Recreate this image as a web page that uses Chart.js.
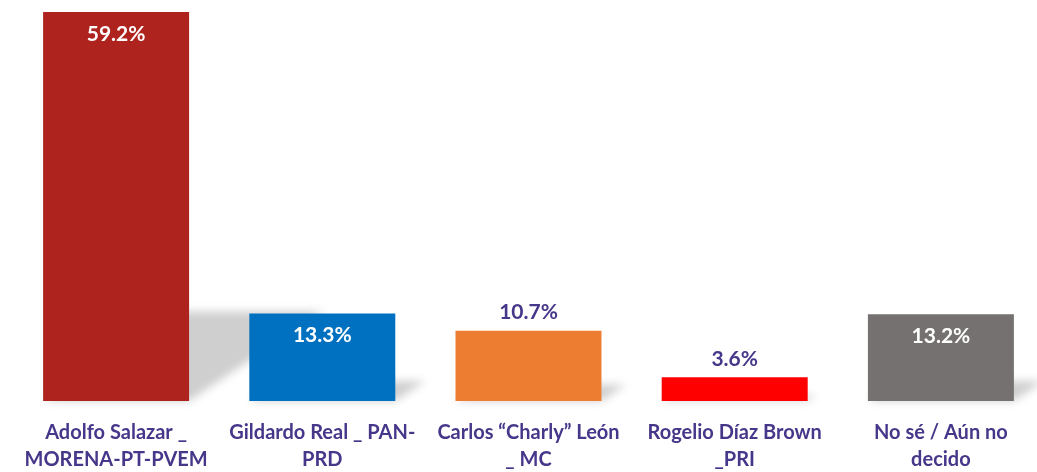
<!DOCTYPE html>
<html>
<head>
<meta charset="utf-8">
<script src="https://cdn.jsdelivr.net/npm/chart.js@4"></script>
<style>
    html, body { margin: 0; padding: 0; background: #fff; overflow: hidden; }
    #wrap { position: relative; width: 1044px; height: 472px; }
</style>
</head>
<body>
<div id="wrap"><canvas id="chart"></canvas></div>
<script>
// candidate labels (two lines each, as in the picture)
const categories = [
    ['Adolfo Salazar _', 'MORENA-PT-PVEM'],
    ['Gildardo Real _ PAN-', 'PRD'],
    ['Carlos \u201cCharly\u201d Le\u00f3n', '_ MC'],
    ['Rogelio D\u00edaz Brown', '_PRI'],
    ['No s\u00e9 / A\u00fan no', 'decido']
];
const values = [59.2, 13.3, 10.7, 3.6, 13.2];
const barColors = ['#AE231E', '#0070C0', '#ED7D31', '#FF0000', '#767171'];
const labelInside = [true, true, false, false, true];

const purple = '#47378A';

// soft slanted shadow behind every bar
const shadowPlugin = {
    id: 'barShadow',
    beforeDatasetsDraw(chart) {
        const ctx = chart.ctx;
        const meta = chart.getDatasetMeta(0);
        ctx.save();
        ctx.filter = 'blur(4px)';
        ctx.fillStyle = 'rgba(0,0,0,0.19)';
        meta.data.forEach(bar => {
            const left = bar.x - bar.width / 2;
            const right = bar.x + bar.width / 2;
            const hk = (bar.base - bar.y) * 0.23;
            const dx = hk * 1.5;
            ctx.beginPath();
            ctx.moveTo(left, bar.base);
            ctx.lineTo(right, bar.base);
            ctx.lineTo(right + dx, bar.base - hk);
            ctx.lineTo(left + dx, bar.base - hk);
            ctx.closePath();
            ctx.fill();
        });
        ctx.restore();
    }
};

// value labels: white inside tall bars, purple above short ones
const valueLabels = {
    id: 'valueLabels',
    afterDatasetsDraw(chart) {
        const ctx = chart.ctx;
        const meta = chart.getDatasetMeta(0);
        ctx.save();
        ctx.font = 'bold 21px Lato, "Open Sans", sans-serif';
        ctx.textAlign = 'center';
        ctx.textBaseline = 'middle';
        meta.data.forEach((bar, i) => {
            const txt = values[i].toFixed(1) + '%';
            if (labelInside[i]) {
                ctx.fillStyle = '#ffffff';
                ctx.fillText(txt, bar.x, bar.y + 22);
            } else {
                ctx.fillStyle = purple;
                ctx.fillText(txt, bar.x, bar.y - 18);
            }
        });
        ctx.restore();
    }
};

new Chart(document.getElementById('chart'), {
    type: 'bar',
    data: {
        labels: categories,
        datasets: [{
            data: values,
            backgroundColor: barColors,
            borderWidth: 0,
            categoryPercentage: 1,
            barPercentage: 0.708
        }]
    },
    options: {
        responsive: true,
        maintainAspectRatio: false,
        animation: false,
        layout: { padding: { left: 13, right: 0, top: 12, bottom: 0 } },
        plugins: {
            legend: { display: false },
            tooltip: { enabled: false }
        },
        scales: {
            x: {
                grid: { display: false, drawTicks: false },
                border: { display: false },
                ticks: {
                    color: purple,
                    font: { family: 'Lato, "Open Sans", sans-serif', size: 20, weight: 'bold', lineHeight: 1.35 },
                    padding: 18,
                    autoSkip: false,
                    maxRotation: 0,
                    minRotation: 0
                },
                afterFit(scale) { scale.height = 71; }
            },
            y: {
                display: false,
                min: 0,
                max: 59.2
            }
        }
    },
    plugins: [shadowPlugin, valueLabels]
});
</script>
</body>
</html>
